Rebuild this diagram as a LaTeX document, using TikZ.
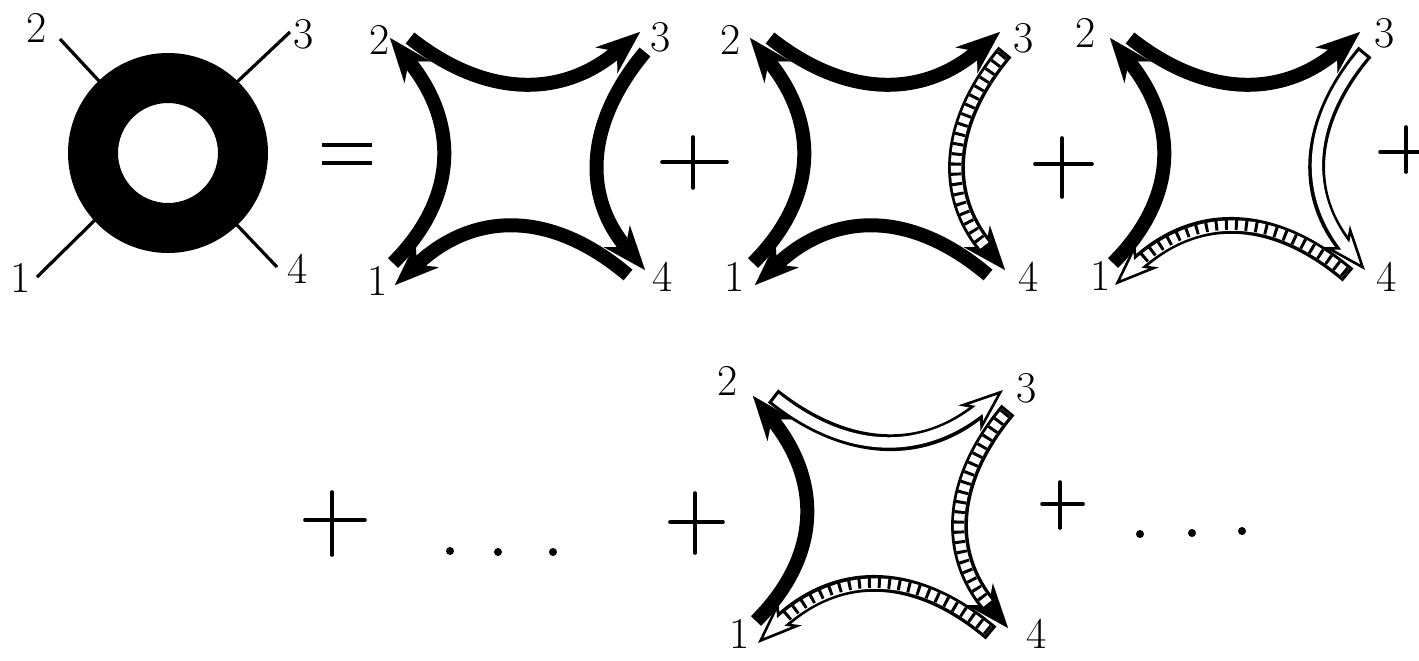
\documentclass[tikz,border=0pt]{standalone}
\usetikzlibrary{arrows.meta}
\tikzset{
  lab/.style={font=\fontsize{22}{22}\selectfont, inner sep=0pt},
  tipS/.style={-{Stealth[length=22pt,width=17pt,inset=7pt,line width=0.01pt]}},
  tipO/.style={-{Stealth[length=22pt,width=17pt,inset=7pt,line width=1.3pt,fill=white]}},
  solidarr/.style={line width=7pt, tipS},
  shaftB/.style={line width=8.4pt},
  shaftW/.style={white, line width=5.2pt, shorten <=1.6pt},
  rungs/.style={black, line width=5.2pt, dash pattern=on 1.5pt off 3.5pt, shorten <=1.6pt, shorten >=17pt},
  plusline/.style={line width=1.8pt, line cap=round},
  thinline/.style={line width=1.6pt},
}
\newcommand\arrS[4]{\draw[solidarr] #1 .. controls #2 and #3 .. #4;}
\newcommand\arrHS[4]{\draw[shaftB,tipS] #1 .. controls #2 and #3 .. #4;
  \draw[shaftW, shorten >=16pt] #1 .. controls #2 and #3 .. #4;
  \draw[rungs] #1 .. controls #2 and #3 .. #4;}
\newcommand\arrHO[4]{\draw[shaftB,tipO] #1 .. controls #2 and #3 .. #4;
  \draw[shaftW, shorten >=12pt] #1 .. controls #2 and #3 .. #4;
  \draw[rungs] #1 .. controls #2 and #3 .. #4;}
\newcommand\arrO[4]{\draw[shaftB,tipO] #1 .. controls #2 and #3 .. #4;
  \draw[shaftW, shorten >=12pt] #1 .. controls #2 and #3 .. #4;}
\newcommand\astro[4]{%
  #1{(393,263)}{(459,197)}{(458,122)}{(390,38)}%
  #2{(410,38)}{(487,99)}{(563,97)}{(640,32)}%
  #3{(645,52)}{(584,125)}{(584,197)}{(645,270)}%
  #4{(628,275)}{(550,209)}{(473,212)}{(395,285)}}
\begin{document}
\begin{tikzpicture}[x=0.5pt,y=-0.5pt]
\useasboundingbox (0,0) rectangle (1419,660);
% ring
\fill[even odd rule] (168,153) circle[radius=50pt] (168,153) circle[radius=25pt];
\node[lab] (r2) at (37,28) {2};
\node[lab] (r3) at (304,34) {3};
\node[lab] (r1) at (21,278) {1};
\node[lab] (r4) at (298,269) {4};
\coordinate (r2a) at (60,39);  \coordinate (r2b) at (100,82);
\coordinate (r3a) at (290,32); \coordinate (r3b) at (237,82);
\coordinate (r1a) at (37,277); \coordinate (r1b) at (95,220);
\coordinate (r4a) at (277,267);\coordinate (r4b) at (237,225);
\draw[thinline] (r2a) -- (r2b);
\draw[thinline] (r3a) -- (r3b);
\draw[thinline] (r1a) -- (r1b);
\draw[thinline] (r4a) -- (r4b);
% equals
\draw[line width=2pt] (322,145) -- (372,145) (322,163) -- (372,163);
% diagram 1
\astro{\arrS}{\arrS}{\arrS}{\arrS}
\node[lab] (a2) at (380,40) {2};
\node[lab] (a3) at (661,37) {3};
\node[lab] (a1) at (378,281) {1};
\node[lab] (a4) at (663,277) {4};
% plus
\draw[plusline] (662,162) -- (727,162) (693,137) -- (693,188);
% diagram 2
\begin{scope}[shift={(360,0)}]
\astro{\arrS}{\arrS}{\arrHS}{\arrS}
\end{scope}
\node[lab] (b2) at (731,40) {2};
\node[lab] (b3) at (1024,38) {3};
\node[lab] (b1) at (735,277) {1};
\node[lab] (b4) at (1029,277) {4};
\draw[plusline] (1035,164) -- (1092,164) (1062,138) -- (1062,197);
% diagram 3
\begin{scope}[shift={(720,0)}]
\astro{\arrS}{\arrS}{\arrO}{\arrHO}
\end{scope}
\node[lab] (c2) at (1086,33) {2};
\node[lab] (c3) at (1385,33) {3};
\node[lab] (c1) at (1101,276) {1};
\node[lab] (c4) at (1387,277) {4};
\draw[plusline] (1380,152) -- (1419,152) (1406,127) -- (1406,172);
% row 2
\draw[plusline] (305,520) -- (365,520) (332,492) -- (332,555);
\fill (450,551) circle[radius=2pt] (498,552) circle[radius=2pt] (553,552) circle[radius=2pt];
\draw[plusline] (670,522) -- (723,522) (695,493) -- (695,553);
\begin{scope}[shift={(363,358)}]
\astro{\arrS}{\arrO}{\arrHS}{\arrHO}
\end{scope}
\node[lab] (d2) at (728,381) {2};
\node[lab] (d3) at (1027,388) {3};
\node[lab] (d1) at (740,634) {1};
\node[lab] (d4) at (1037,634) {4};
\draw[plusline] (1042,504) -- (1083,504) (1060,482) -- (1060,528);
\fill (1140,534) circle[radius=2pt] (1192,533) circle[radius=2pt] (1242,531) circle[radius=2pt];
\end{tikzpicture}
\end{document}
